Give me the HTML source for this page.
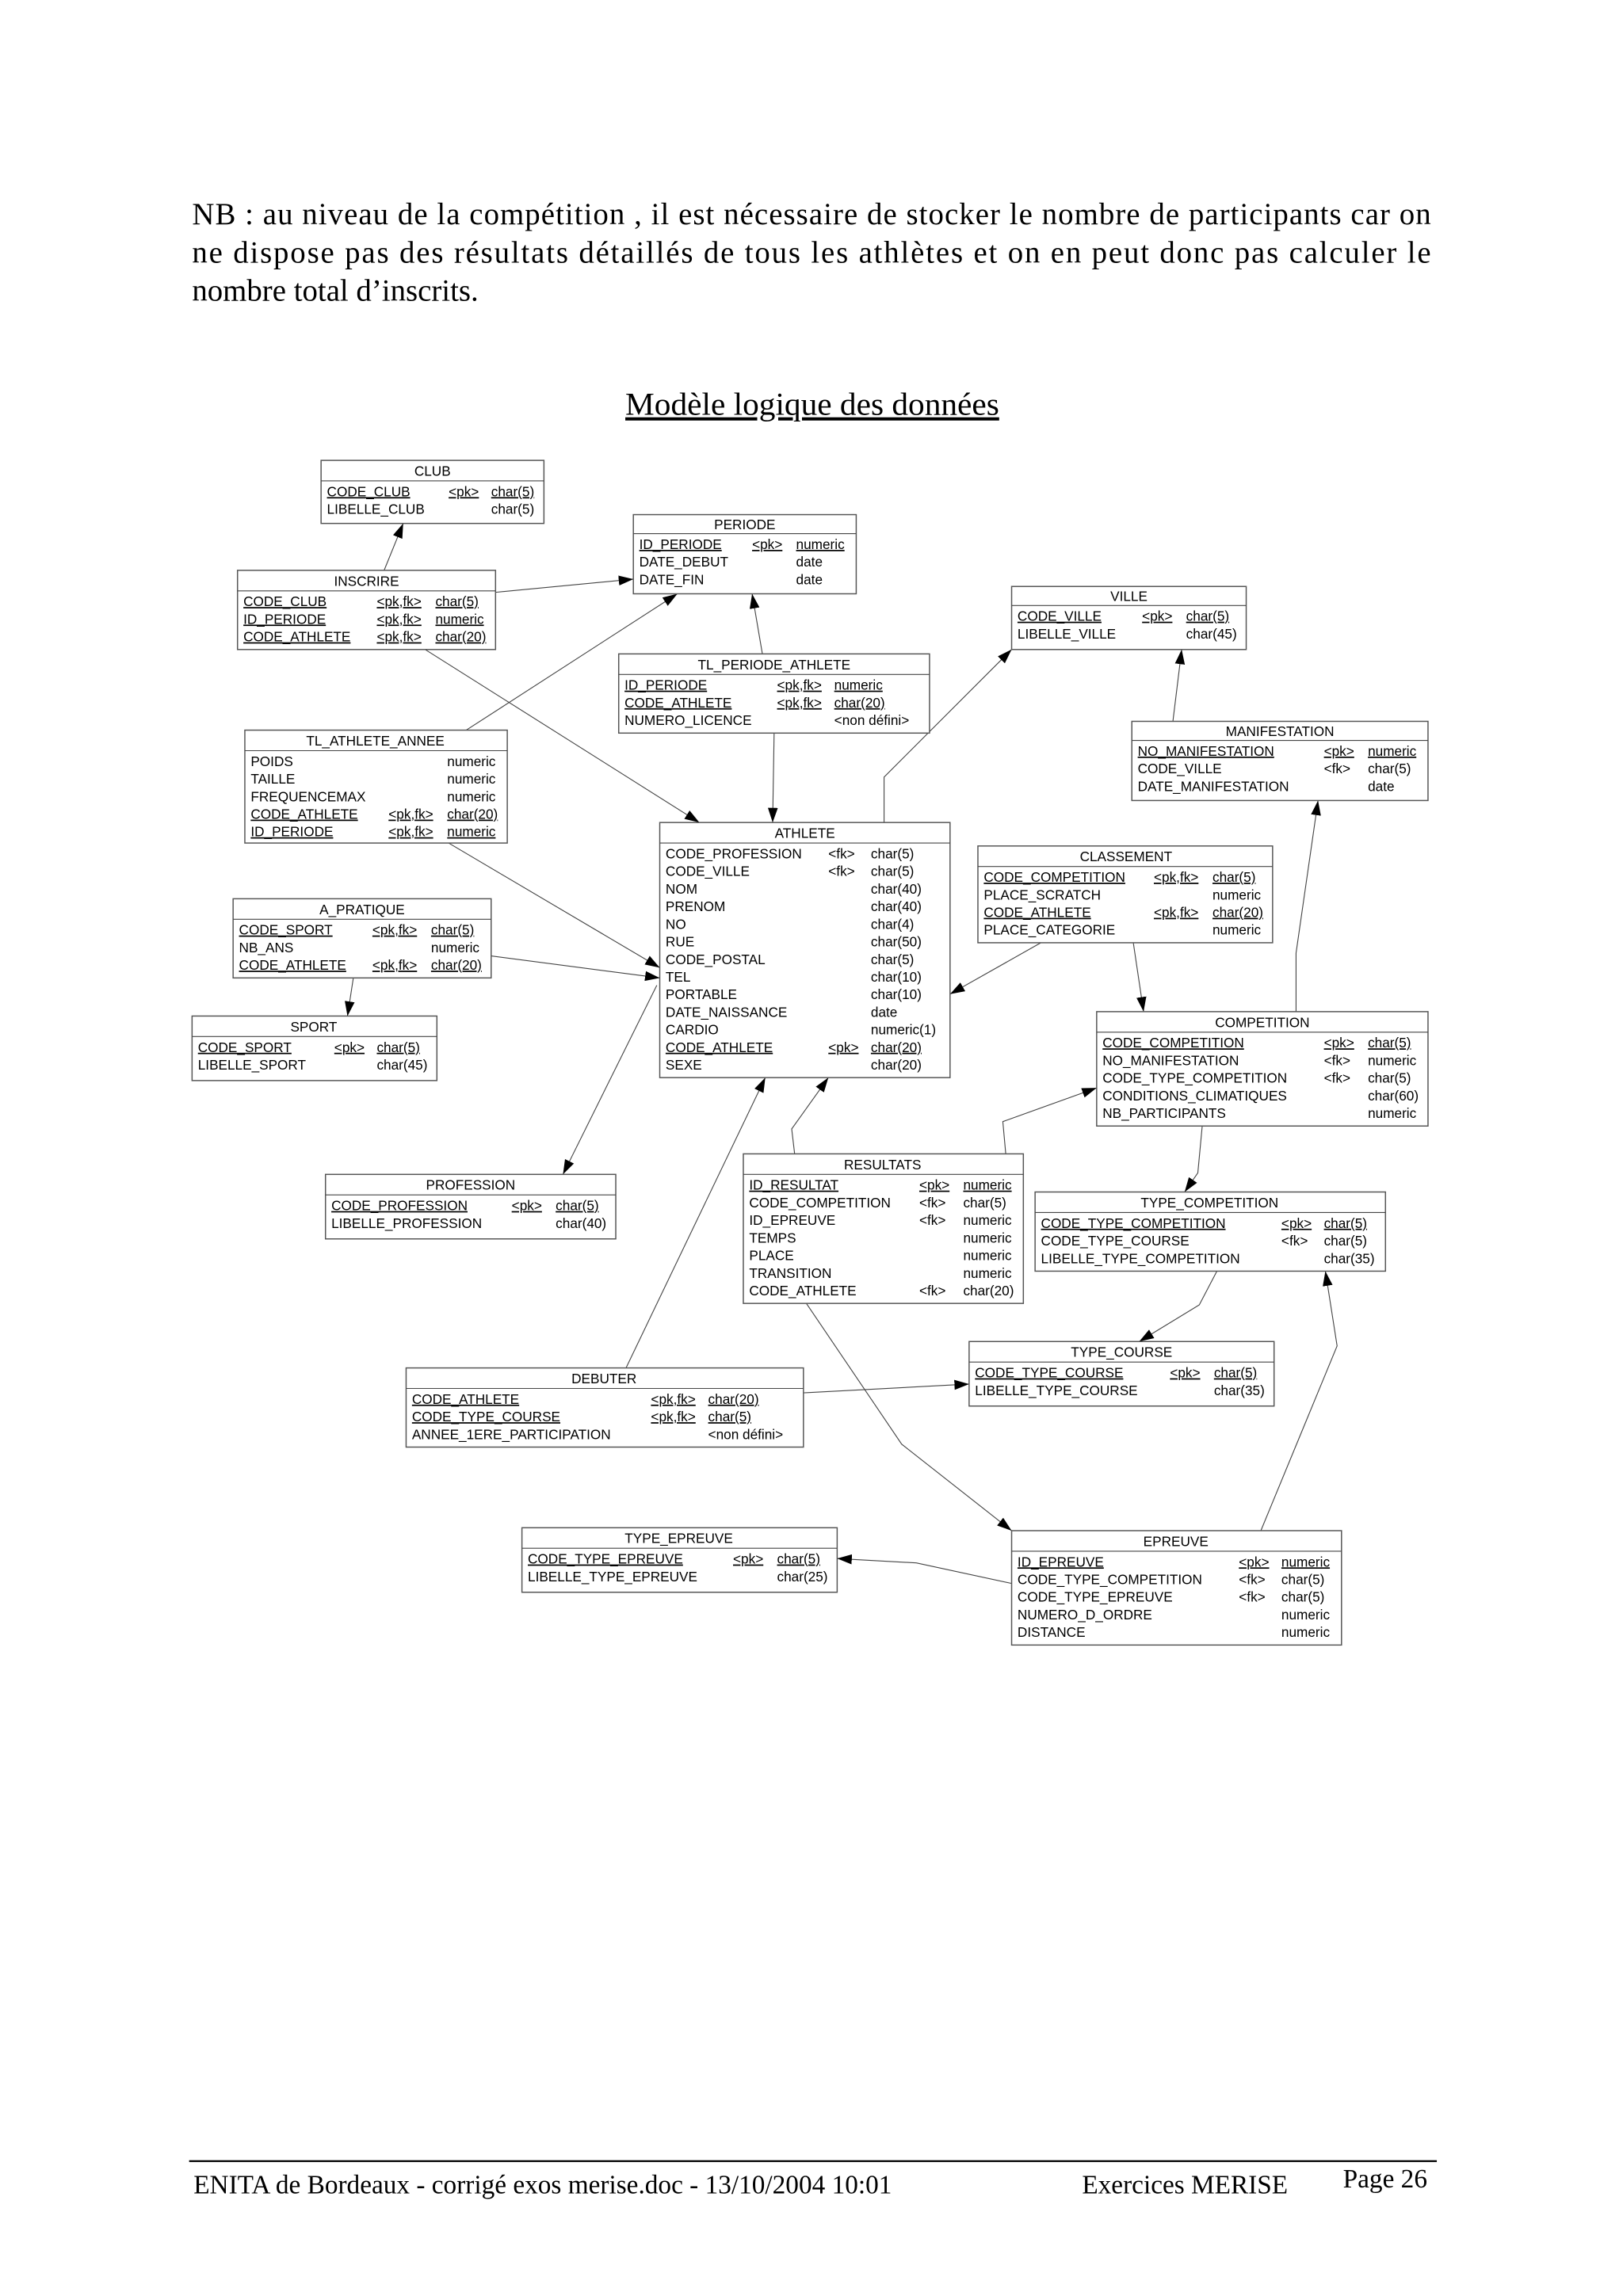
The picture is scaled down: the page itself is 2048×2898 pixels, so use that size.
<!DOCTYPE html>
<html><head><meta charset="utf-8"><style>
html,body{margin:0;padding:0;background:#fff}
svg{display:block}
.t{font-family:"Liberation Sans",sans-serif;font-size:9.3px;fill:#000}
.h{font-family:"Liberation Sans",sans-serif;font-size:9.3px;fill:#000;text-anchor:middle}
.s{font-family:"Liberation Serif",serif;font-size:21px;fill:#000}
.f{font-family:"Liberation Serif",serif;font-size:18px;fill:#000}
.b{fill:#fff;stroke:#555;stroke-width:0.8}
.l{stroke:#444;stroke-width:0.6;fill:none}
</style></head><body>
<svg width="2048" height="2898" viewBox="0 0 1107 1566" preserveAspectRatio="none" xmlns="http://www.w3.org/2000/svg">
<defs><marker id="a" viewBox="0 0 10 10" refX="10" refY="5" markerWidth="10" markerHeight="10" markerUnits="userSpaceOnUse" orient="auto"><path d="M0,1.6 L10,5 L0,8.4 z" fill="#000"/></marker></defs>
<text class="s" x="131" y="153" textLength="845" lengthAdjust="spacing">NB : au niveau de la compétition , il est nécessaire de stocker le nombre de participants car on</text>
<text class="s" x="131" y="179" textLength="845" lengthAdjust="spacing">ne dispose pas des résultats détaillés de tous les athlètes et on en peut donc pas calculer le</text>
<text class="s" x="131" y="205">nombre total d’inscrits.</text>
<text class="s" x="554" y="283" text-anchor="middle" text-decoration="underline" style="font-size:22px" textLength="255" lengthAdjust="spacingAndGlyphs">Modèle logique des données</text>

<g>
<path class="l" marker-end="url(#a)" d="M262,389 L275,357"/>
<path class="l" marker-end="url(#a)" d="M338,404 L432,395"/>
<path class="l" marker-end="url(#a)" d="M290,443 L477,561"/>
<path class="l" marker-end="url(#a)" d="M318,498 L462,405"/>
<path class="l" marker-end="url(#a)" d="M520,446 L513,405"/>
<path class="l" marker-end="url(#a)" d="M528,500 L527,561"/>
<path class="l" marker-end="url(#a)" d="M603,561 L603,530 L690,443"/>
<path class="l" marker-end="url(#a)" d="M800,492 L806,443"/>
<path class="l" marker-end="url(#a)" d="M306,575 L450,660"/>
<path class="l" marker-end="url(#a)" d="M335,652 L450,667"/>
<path class="l" marker-end="url(#a)" d="M241,667 L237,693"/>
<path class="l" marker-end="url(#a)" d="M448,672 L384,801"/>
<path class="l" marker-end="url(#a)" d="M710,643 L648,678"/>
<path class="l" marker-end="url(#a)" d="M773,643 L780,690"/>
<path class="l" marker-end="url(#a)" d="M884,690 L884,650 L899,546"/>
<path class="l" marker-end="url(#a)" d="M542,787 L540,770 L565,735"/>
<path class="l" marker-end="url(#a)" d="M427,933 L522,735"/>
<path class="l" marker-end="url(#a)" d="M686,787 L684,765 L748,742"/>
<path class="l" marker-end="url(#a)" d="M820,768 L817,800 L808,813"/>
<path class="l" marker-end="url(#a)" d="M830,867 L818,890 L777,915"/>
<path class="l" marker-end="url(#a)" d="M548,950 L661,944"/>
<path class="l" marker-end="url(#a)" d="M550,889 L615,985 L690,1044"/>
<path class="l" marker-end="url(#a)" d="M690,1080 L625,1066 L571,1063"/>
<path class="l" marker-end="url(#a)" d="M860,1044 L912,918 L904,867"/>
</g>

<rect class="b" x="219" y="314" width="152" height="43"/><line class="l" x1="219" y1="328" x2="371" y2="328"/>
<text class="h" x="295" y="324.5">CLUB</text>
<text class="t" x="223" y="338.5" text-decoration="underline">CODE_CLUB</text><text class="t" x="306" y="338.5" text-decoration="underline">&lt;pk&gt;</text><text class="t" x="335" y="338.5" text-decoration="underline">char(5)</text>
<text class="t" x="223" y="350.5">LIBELLE_CLUB</text><text class="t" x="335" y="350.5">char(5)</text>

<rect class="b" x="432" y="351" width="152" height="54"/><line class="l" x1="432" y1="364" x2="584" y2="364"/>
<text class="h" x="508" y="361">PERIODE</text>
<text class="t" x="436" y="374.5" text-decoration="underline">ID_PERIODE</text><text class="t" x="513" y="374.5" text-decoration="underline">&lt;pk&gt;</text><text class="t" x="543" y="374.5" text-decoration="underline">numeric</text>
<text class="t" x="436" y="386.5">DATE_DEBUT</text><text class="t" x="543" y="386.5">date</text>
<text class="t" x="436" y="398.5">DATE_FIN</text><text class="t" x="543" y="398.5">date</text>

<rect class="b" x="162" y="389" width="176" height="54"/><line class="l" x1="162" y1="403" x2="338" y2="403"/>
<text class="h" x="250" y="399.5">INSCRIRE</text>
<text class="t" x="166" y="413.5" text-decoration="underline">CODE_CLUB</text><text class="t" x="257" y="413.5" text-decoration="underline">&lt;pk,fk&gt;</text><text class="t" x="297" y="413.5" text-decoration="underline">char(5)</text>
<text class="t" x="166" y="425.5" text-decoration="underline">ID_PERIODE</text><text class="t" x="257" y="425.5" text-decoration="underline">&lt;pk,fk&gt;</text><text class="t" x="297" y="425.5" text-decoration="underline">numeric</text>
<text class="t" x="166" y="437.5" text-decoration="underline">CODE_ATHLETE</text><text class="t" x="257" y="437.5" text-decoration="underline">&lt;pk,fk&gt;</text><text class="t" x="297" y="437.5" text-decoration="underline">char(20)</text>

<rect class="b" x="690" y="400" width="160" height="43"/><line class="l" x1="690" y1="413" x2="850" y2="413"/>
<text class="h" x="770" y="410">VILLE</text>
<text class="t" x="694" y="423.5" text-decoration="underline">CODE_VILLE</text><text class="t" x="779" y="423.5" text-decoration="underline">&lt;pk&gt;</text><text class="t" x="809" y="423.5" text-decoration="underline">char(5)</text>
<text class="t" x="694" y="435.5">LIBELLE_VILLE</text><text class="t" x="809" y="435.5">char(45)</text>

<rect class="b" x="422" y="446" width="212" height="54"/><line class="l" x1="422" y1="460" x2="634" y2="460"/>
<text class="h" x="528" y="456.5">TL_PERIODE_ATHLETE</text>
<text class="t" x="426" y="470.5" text-decoration="underline">ID_PERIODE</text><text class="t" x="530" y="470.5" text-decoration="underline">&lt;pk,fk&gt;</text><text class="t" x="569" y="470.5" text-decoration="underline">numeric</text>
<text class="t" x="426" y="482.5" text-decoration="underline">CODE_ATHLETE</text><text class="t" x="530" y="482.5" text-decoration="underline">&lt;pk,fk&gt;</text><text class="t" x="569" y="482.5" text-decoration="underline">char(20)</text>
<text class="t" x="426" y="494.5">NUMERO_LICENCE</text><text class="t" x="569" y="494.5">&lt;non défini&gt;</text>

<rect class="b" x="167" y="498" width="179" height="77"/><line class="l" x1="167" y1="512" x2="346" y2="512"/>
<text class="h" x="256" y="508.5">TL_ATHLETE_ANNEE</text>
<text class="t" x="171" y="522.5">POIDS</text><text class="t" x="305" y="522.5">numeric</text>
<text class="t" x="171" y="534.5">TAILLE</text><text class="t" x="305" y="534.5">numeric</text>
<text class="t" x="171" y="546.5">FREQUENCEMAX</text><text class="t" x="305" y="546.5">numeric</text>
<text class="t" x="171" y="558.5" text-decoration="underline">CODE_ATHLETE</text><text class="t" x="265" y="558.5" text-decoration="underline">&lt;pk,fk&gt;</text><text class="t" x="305" y="558.5" text-decoration="underline">char(20)</text>
<text class="t" x="171" y="570.5" text-decoration="underline">ID_PERIODE</text><text class="t" x="265" y="570.5" text-decoration="underline">&lt;pk,fk&gt;</text><text class="t" x="305" y="570.5" text-decoration="underline">numeric</text>

<rect class="b" x="772" y="492" width="202" height="54"/><line class="l" x1="772" y1="505" x2="974" y2="505"/>
<text class="h" x="873" y="502">MANIFESTATION</text>
<text class="t" x="776" y="515.5" text-decoration="underline">NO_MANIFESTATION</text><text class="t" x="903" y="515.5" text-decoration="underline">&lt;pk&gt;</text><text class="t" x="933" y="515.5" text-decoration="underline">numeric</text>
<text class="t" x="776" y="527.5">CODE_VILLE</text><text class="t" x="903" y="527.5">&lt;fk&gt;</text><text class="t" x="933" y="527.5">char(5)</text>
<text class="t" x="776" y="539.5">DATE_MANIFESTATION</text><text class="t" x="933" y="539.5">date</text>

<rect class="b" x="450" y="561" width="198" height="174"/><line class="l" x1="450" y1="575" x2="648" y2="575"/>
<text class="h" x="549" y="571.5">ATHLETE</text>
<text class="t" x="454" y="585.5">CODE_PROFESSION</text><text class="t" x="565" y="585.5">&lt;fk&gt;</text><text class="t" x="594" y="585.5">char(5)</text>
<text class="t" x="454" y="597.5">CODE_VILLE</text><text class="t" x="565" y="597.5">&lt;fk&gt;</text><text class="t" x="594" y="597.5">char(5)</text>
<text class="t" x="454" y="609.5">NOM</text><text class="t" x="594" y="609.5">char(40)</text>
<text class="t" x="454" y="621.5">PRENOM</text><text class="t" x="594" y="621.5">char(40)</text>
<text class="t" x="454" y="633.5">NO</text><text class="t" x="594" y="633.5">char(4)</text>
<text class="t" x="454" y="645.5">RUE</text><text class="t" x="594" y="645.5">char(50)</text>
<text class="t" x="454" y="657.5">CODE_POSTAL</text><text class="t" x="594" y="657.5">char(5)</text>
<text class="t" x="454" y="669.5">TEL</text><text class="t" x="594" y="669.5">char(10)</text>
<text class="t" x="454" y="681.5">PORTABLE</text><text class="t" x="594" y="681.5">char(10)</text>
<text class="t" x="454" y="693.5">DATE_NAISSANCE</text><text class="t" x="594" y="693.5">date</text>
<text class="t" x="454" y="705.5">CARDIO</text><text class="t" x="594" y="705.5">numeric(1)</text>
<text class="t" x="454" y="717.5" text-decoration="underline">CODE_ATHLETE</text><text class="t" x="565" y="717.5" text-decoration="underline">&lt;pk&gt;</text><text class="t" x="594" y="717.5" text-decoration="underline">char(20)</text>
<text class="t" x="454" y="729.5">SEXE</text><text class="t" x="594" y="729.5">char(20)</text>

<rect class="b" x="667" y="577" width="201" height="66"/><line class="l" x1="667" y1="591" x2="868" y2="591"/>
<text class="h" x="768" y="587.5">CLASSEMENT</text>
<text class="t" x="671" y="601.5" text-decoration="underline">CODE_COMPETITION</text><text class="t" x="787" y="601.5" text-decoration="underline">&lt;pk,fk&gt;</text><text class="t" x="827" y="601.5" text-decoration="underline">char(5)</text>
<text class="t" x="671" y="613.5">PLACE_SCRATCH</text><text class="t" x="827" y="613.5">numeric</text>
<text class="t" x="671" y="625.5" text-decoration="underline">CODE_ATHLETE</text><text class="t" x="787" y="625.5" text-decoration="underline">&lt;pk,fk&gt;</text><text class="t" x="827" y="625.5" text-decoration="underline">char(20)</text>
<text class="t" x="671" y="637.5">PLACE_CATEGORIE</text><text class="t" x="827" y="637.5">numeric</text>

<rect class="b" x="159" y="613" width="176" height="54"/><line class="l" x1="159" y1="627" x2="335" y2="627"/>
<text class="h" x="247" y="623.5">A_PRATIQUE</text>
<text class="t" x="163" y="637.5" text-decoration="underline">CODE_SPORT</text><text class="t" x="254" y="637.5" text-decoration="underline">&lt;pk,fk&gt;</text><text class="t" x="294" y="637.5" text-decoration="underline">char(5)</text>
<text class="t" x="163" y="649.5">NB_ANS</text><text class="t" x="294" y="649.5">numeric</text>
<text class="t" x="163" y="661.5" text-decoration="underline">CODE_ATHLETE</text><text class="t" x="254" y="661.5" text-decoration="underline">&lt;pk,fk&gt;</text><text class="t" x="294" y="661.5" text-decoration="underline">char(20)</text>

<rect class="b" x="131" y="693" width="167" height="44"/><line class="l" x1="131" y1="707" x2="298" y2="707"/>
<text class="h" x="214" y="703.5">SPORT</text>
<text class="t" x="135" y="717.5" text-decoration="underline">CODE_SPORT</text><text class="t" x="228" y="717.5" text-decoration="underline">&lt;pk&gt;</text><text class="t" x="257" y="717.5" text-decoration="underline">char(5)</text>
<text class="t" x="135" y="729.5">LIBELLE_SPORT</text><text class="t" x="257" y="729.5">char(45)</text>

<rect class="b" x="748" y="690" width="226" height="78"/><line class="l" x1="748" y1="704" x2="974" y2="704"/>
<text class="h" x="861" y="700.5">COMPETITION</text>
<text class="t" x="752" y="714.5" text-decoration="underline">CODE_COMPETITION</text><text class="t" x="903" y="714.5" text-decoration="underline">&lt;pk&gt;</text><text class="t" x="933" y="714.5" text-decoration="underline">char(5)</text>
<text class="t" x="752" y="726.5">NO_MANIFESTATION</text><text class="t" x="903" y="726.5">&lt;fk&gt;</text><text class="t" x="933" y="726.5">numeric</text>
<text class="t" x="752" y="738.5">CODE_TYPE_COMPETITION</text><text class="t" x="903" y="738.5">&lt;fk&gt;</text><text class="t" x="933" y="738.5">char(5)</text>
<text class="t" x="752" y="750.5">CONDITIONS_CLIMATIQUES</text><text class="t" x="933" y="750.5">char(60)</text>
<text class="t" x="752" y="762.5">NB_PARTICIPANTS</text><text class="t" x="933" y="762.5">numeric</text>

<rect class="b" x="222" y="801" width="198" height="44"/><line class="l" x1="222" y1="815" x2="420" y2="815"/>
<text class="h" x="321" y="811.5">PROFESSION</text>
<text class="t" x="226" y="825.5" text-decoration="underline">CODE_PROFESSION</text><text class="t" x="349" y="825.5" text-decoration="underline">&lt;pk&gt;</text><text class="t" x="379" y="825.5" text-decoration="underline">char(5)</text>
<text class="t" x="226" y="837.5">LIBELLE_PROFESSION</text><text class="t" x="379" y="837.5">char(40)</text>

<rect class="b" x="507" y="787" width="191" height="102"/><line class="l" x1="507" y1="801" x2="698" y2="801"/>
<text class="h" x="602" y="797.5">RESULTATS</text>
<text class="t" x="511" y="811.5" text-decoration="underline">ID_RESULTAT</text><text class="t" x="627" y="811.5" text-decoration="underline">&lt;pk&gt;</text><text class="t" x="657" y="811.5" text-decoration="underline">numeric</text>
<text class="t" x="511" y="823.5">CODE_COMPETITION</text><text class="t" x="627" y="823.5">&lt;fk&gt;</text><text class="t" x="657" y="823.5">char(5)</text>
<text class="t" x="511" y="835.5">ID_EPREUVE</text><text class="t" x="627" y="835.5">&lt;fk&gt;</text><text class="t" x="657" y="835.5">numeric</text>
<text class="t" x="511" y="847.5">TEMPS</text><text class="t" x="657" y="847.5">numeric</text>
<text class="t" x="511" y="859.5">PLACE</text><text class="t" x="657" y="859.5">numeric</text>
<text class="t" x="511" y="871.5">TRANSITION</text><text class="t" x="657" y="871.5">numeric</text>
<text class="t" x="511" y="883.5">CODE_ATHLETE</text><text class="t" x="627" y="883.5">&lt;fk&gt;</text><text class="t" x="657" y="883.5">char(20)</text>

<rect class="b" x="706" y="813" width="239" height="54"/><line class="l" x1="706" y1="827" x2="945" y2="827"/>
<text class="h" x="825" y="823.5">TYPE_COMPETITION</text>
<text class="t" x="710" y="837.5" text-decoration="underline">CODE_TYPE_COMPETITION</text><text class="t" x="874" y="837.5" text-decoration="underline">&lt;pk&gt;</text><text class="t" x="903" y="837.5" text-decoration="underline">char(5)</text>
<text class="t" x="710" y="849.5">CODE_TYPE_COURSE</text><text class="t" x="874" y="849.5">&lt;fk&gt;</text><text class="t" x="903" y="849.5">char(5)</text>
<text class="t" x="710" y="861.5">LIBELLE_TYPE_COMPETITION</text><text class="t" x="903" y="861.5">char(35)</text>

<rect class="b" x="661" y="915" width="208" height="44"/><line class="l" x1="661" y1="929" x2="869" y2="929"/>
<text class="h" x="765" y="925.5">TYPE_COURSE</text>
<text class="t" x="665" y="939.5" text-decoration="underline">CODE_TYPE_COURSE</text><text class="t" x="798" y="939.5" text-decoration="underline">&lt;pk&gt;</text><text class="t" x="828" y="939.5" text-decoration="underline">char(5)</text>
<text class="t" x="665" y="951.5">LIBELLE_TYPE_COURSE</text><text class="t" x="828" y="951.5">char(35)</text>

<rect class="b" x="277" y="933" width="271" height="54"/><line class="l" x1="277" y1="947" x2="548" y2="947"/>
<text class="h" x="412" y="943.5">DEBUTER</text>
<text class="t" x="281" y="957.5" text-decoration="underline">CODE_ATHLETE</text><text class="t" x="444" y="957.5" text-decoration="underline">&lt;pk,fk&gt;</text><text class="t" x="483" y="957.5" text-decoration="underline">char(20)</text>
<text class="t" x="281" y="969.5" text-decoration="underline">CODE_TYPE_COURSE</text><text class="t" x="444" y="969.5" text-decoration="underline">&lt;pk,fk&gt;</text><text class="t" x="483" y="969.5" text-decoration="underline">char(5)</text>
<text class="t" x="281" y="981.5">ANNEE_1ERE_PARTICIPATION</text><text class="t" x="483" y="981.5">&lt;non défini&gt;</text>

<rect class="b" x="356" y="1042" width="215" height="44"/><line class="l" x1="356" y1="1056" x2="571" y2="1056"/>
<text class="h" x="463" y="1052.5">TYPE_EPREUVE</text>
<text class="t" x="360" y="1066.5" text-decoration="underline">CODE_TYPE_EPREUVE</text><text class="t" x="500" y="1066.5" text-decoration="underline">&lt;pk&gt;</text><text class="t" x="530" y="1066.5" text-decoration="underline">char(5)</text>
<text class="t" x="360" y="1078.5">LIBELLE_TYPE_EPREUVE</text><text class="t" x="530" y="1078.5">char(25)</text>

<rect class="b" x="690" y="1044" width="225" height="78"/><line class="l" x1="690" y1="1058" x2="915" y2="1058"/>
<text class="h" x="802" y="1054.5">EPREUVE</text>
<text class="t" x="694" y="1068.5" text-decoration="underline">ID_EPREUVE</text><text class="t" x="845" y="1068.5" text-decoration="underline">&lt;pk&gt;</text><text class="t" x="874" y="1068.5" text-decoration="underline">numeric</text>
<text class="t" x="694" y="1080.5">CODE_TYPE_COMPETITION</text><text class="t" x="845" y="1080.5">&lt;fk&gt;</text><text class="t" x="874" y="1080.5">char(5)</text>
<text class="t" x="694" y="1092.5">CODE_TYPE_EPREUVE</text><text class="t" x="845" y="1092.5">&lt;fk&gt;</text><text class="t" x="874" y="1092.5">char(5)</text>
<text class="t" x="694" y="1104.5">NUMERO_D_ORDRE</text><text class="t" x="874" y="1104.5">numeric</text>
<text class="t" x="694" y="1116.5">DISTANCE</text><text class="t" x="874" y="1116.5">numeric</text>

<line x1="129" y1="1474" x2="980" y2="1474" stroke="#000" stroke-width="1.2"/>
<text class="f" x="132" y="1496">ENITA de Bordeaux - corrigé exos merise.doc - 13/10/2004 10:01</text>
<text class="f" x="738" y="1496">Exercices MERISE</text>
<text class="f" x="916" y="1492">Page 26</text>
</svg>
</body></html>
